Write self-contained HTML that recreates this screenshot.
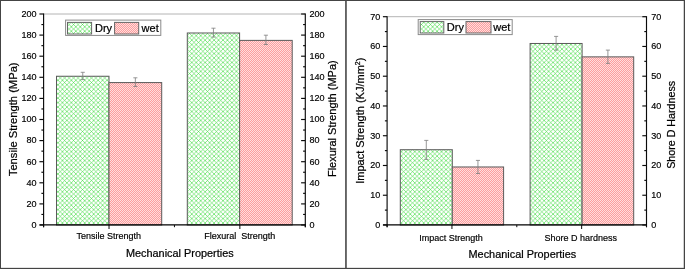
<!DOCTYPE html>
<html><head><meta charset="utf-8"><title>Mechanical Properties</title>
<style>
html,body{margin:0;padding:0;background:#fff;}
body{width:685px;height:269px;overflow:hidden;font-family:"Liberation Sans", sans-serif;}
svg{display:block;font-family:"Liberation Sans", sans-serif;}
</style></head><body>
<svg width="685" height="269" viewBox="0 0 685 269">
<defs>
<pattern id="gh" width="4.46" height="4.46" patternUnits="userSpaceOnUse">
<path d="M-1 -1 L5.46 5.46 M-1 3.46 L1 5.46 M3.46 -1 L5.46 1" stroke="#34d834" stroke-opacity="0.72" stroke-width="0.8" fill="none"/>
<path d="M-1 5.46 L5.46 -1 M-1 1 L1 -1 M3.46 5.46 L5.46 3.46" stroke="#34d834" stroke-opacity="0.72" stroke-width="0.8" fill="none"/>
</pattern>
<pattern id="rh" width="2" height="2" patternUnits="userSpaceOnUse">
<rect x="0" y="0" width="2" height="2" fill="#fc9e9e"/>
<rect x="0" y="0" width="1" height="1" fill="#ffdede"/>
<rect x="1" y="1" width="1" height="1" fill="#ffdede"/>
</pattern>
<filter id="soft" x="0" y="0" width="685" height="269" filterUnits="userSpaceOnUse" color-interpolation-filters="sRGB"><feGaussianBlur stdDeviation="0.3"/></filter>
</defs>
<rect x="0" y="0" width="685" height="269" fill="#fff"/>
<g filter="url(#soft)">

<line x1="43.6" y1="14" x2="305.3" y2="14" stroke="#b4b4b4" stroke-width="1"/>
<rect x="56.5" y="76.25" width="52.50" height="148.75" fill="#ffffff"/>
<rect x="56.5" y="76.25" width="52.50" height="148.75" fill="url(#gh)" stroke="#5a5a5a" stroke-width="1"/>
<rect x="109" y="82.58" width="52.70" height="142.42" fill="#ffe9e9"/>
<rect x="109" y="82.58" width="52.70" height="142.42" fill="url(#rh)" stroke="#5a5a5a" stroke-width="1"/>
<rect x="187.3" y="32.99" width="52.30" height="192.01" fill="#ffffff"/>
<rect x="187.3" y="32.99" width="52.30" height="192.01" fill="url(#gh)" stroke="#5a5a5a" stroke-width="1"/>
<rect x="239.6" y="40.38" width="52.60" height="184.62" fill="#ffe9e9"/>
<rect x="239.6" y="40.38" width="52.60" height="184.62" fill="url(#rh)" stroke="#5a5a5a" stroke-width="1"/>
<path d="M82.75 72.3 V79.6 M80.70 72.3 H84.80 M80.70 79.6 H84.80" stroke="#7e7e7e" stroke-width="0.8" fill="none"/>
<path d="M135.35 77.8 V86.5 M133.30 77.8 H137.40 M133.30 86.5 H137.40" stroke="#7e7e7e" stroke-width="0.8" fill="none"/>
<path d="M213.45 28.2 V37.1 M211.40 28.2 H215.50 M211.40 37.1 H215.50" stroke="#7e7e7e" stroke-width="0.8" fill="none"/>
<path d="M265.90 35.2 V44.5 M263.85 35.2 H267.95 M263.85 44.5 H267.95" stroke="#7e7e7e" stroke-width="0.8" fill="none"/>
<line x1="43.6" y1="13.5" x2="43.6" y2="227.2" stroke="#0a0a0a" stroke-width="1.15"/>
<line x1="305.3" y1="13.5" x2="305.3" y2="227.2" stroke="#0a0a0a" stroke-width="1.15"/>
<line x1="39.6" y1="224.95" x2="305.8" y2="224.95" stroke="#000" stroke-width="1.3"/>
<line x1="39.4" y1="225.00" x2="43.6" y2="225.00" stroke="#0a0a0a" stroke-width="1.15"/>
<line x1="301.1" y1="225.00" x2="305.3" y2="225.00" stroke="#0a0a0a" stroke-width="1.15"/>
<text transform="translate(36.5,227.80) scale(0.925,1)" font-size="9.8" text-anchor="end" fill="#000" stroke="#000" stroke-width="0.18">0</text>
<text transform="translate(309.4,227.80) scale(0.925,1)" font-size="9.8" text-anchor="start" fill="#000" stroke="#000" stroke-width="0.18">0</text>
<line x1="41.4" y1="214.45" x2="43.6" y2="214.45" stroke="#0a0a0a" stroke-width="1.15"/>
<line x1="303.1" y1="214.45" x2="305.3" y2="214.45" stroke="#0a0a0a" stroke-width="1.15"/>
<line x1="39.4" y1="203.90" x2="43.6" y2="203.90" stroke="#0a0a0a" stroke-width="1.15"/>
<line x1="301.1" y1="203.90" x2="305.3" y2="203.90" stroke="#0a0a0a" stroke-width="1.15"/>
<text transform="translate(36.5,206.70) scale(0.925,1)" font-size="9.8" text-anchor="end" fill="#000" stroke="#000" stroke-width="0.18">20</text>
<text transform="translate(309.4,206.70) scale(0.925,1)" font-size="9.8" text-anchor="start" fill="#000" stroke="#000" stroke-width="0.18">20</text>
<line x1="41.4" y1="193.35" x2="43.6" y2="193.35" stroke="#0a0a0a" stroke-width="1.15"/>
<line x1="303.1" y1="193.35" x2="305.3" y2="193.35" stroke="#0a0a0a" stroke-width="1.15"/>
<line x1="39.4" y1="182.80" x2="43.6" y2="182.80" stroke="#0a0a0a" stroke-width="1.15"/>
<line x1="301.1" y1="182.80" x2="305.3" y2="182.80" stroke="#0a0a0a" stroke-width="1.15"/>
<text transform="translate(36.5,185.60) scale(0.925,1)" font-size="9.8" text-anchor="end" fill="#000" stroke="#000" stroke-width="0.18">40</text>
<text transform="translate(309.4,185.60) scale(0.925,1)" font-size="9.8" text-anchor="start" fill="#000" stroke="#000" stroke-width="0.18">40</text>
<line x1="41.4" y1="172.25" x2="43.6" y2="172.25" stroke="#0a0a0a" stroke-width="1.15"/>
<line x1="303.1" y1="172.25" x2="305.3" y2="172.25" stroke="#0a0a0a" stroke-width="1.15"/>
<line x1="39.4" y1="161.70" x2="43.6" y2="161.70" stroke="#0a0a0a" stroke-width="1.15"/>
<line x1="301.1" y1="161.70" x2="305.3" y2="161.70" stroke="#0a0a0a" stroke-width="1.15"/>
<text transform="translate(36.5,164.50) scale(0.925,1)" font-size="9.8" text-anchor="end" fill="#000" stroke="#000" stroke-width="0.18">60</text>
<text transform="translate(309.4,164.50) scale(0.925,1)" font-size="9.8" text-anchor="start" fill="#000" stroke="#000" stroke-width="0.18">60</text>
<line x1="41.4" y1="151.15" x2="43.6" y2="151.15" stroke="#0a0a0a" stroke-width="1.15"/>
<line x1="303.1" y1="151.15" x2="305.3" y2="151.15" stroke="#0a0a0a" stroke-width="1.15"/>
<line x1="39.4" y1="140.60" x2="43.6" y2="140.60" stroke="#0a0a0a" stroke-width="1.15"/>
<line x1="301.1" y1="140.60" x2="305.3" y2="140.60" stroke="#0a0a0a" stroke-width="1.15"/>
<text transform="translate(36.5,143.40) scale(0.925,1)" font-size="9.8" text-anchor="end" fill="#000" stroke="#000" stroke-width="0.18">80</text>
<text transform="translate(309.4,143.40) scale(0.925,1)" font-size="9.8" text-anchor="start" fill="#000" stroke="#000" stroke-width="0.18">80</text>
<line x1="41.4" y1="130.05" x2="43.6" y2="130.05" stroke="#0a0a0a" stroke-width="1.15"/>
<line x1="303.1" y1="130.05" x2="305.3" y2="130.05" stroke="#0a0a0a" stroke-width="1.15"/>
<line x1="39.4" y1="119.50" x2="43.6" y2="119.50" stroke="#0a0a0a" stroke-width="1.15"/>
<line x1="301.1" y1="119.50" x2="305.3" y2="119.50" stroke="#0a0a0a" stroke-width="1.15"/>
<text transform="translate(36.5,122.30) scale(0.925,1)" font-size="9.8" text-anchor="end" fill="#000" stroke="#000" stroke-width="0.18">100</text>
<text transform="translate(309.4,122.30) scale(0.925,1)" font-size="9.8" text-anchor="start" fill="#000" stroke="#000" stroke-width="0.18">100</text>
<line x1="41.4" y1="108.95" x2="43.6" y2="108.95" stroke="#0a0a0a" stroke-width="1.15"/>
<line x1="303.1" y1="108.95" x2="305.3" y2="108.95" stroke="#0a0a0a" stroke-width="1.15"/>
<line x1="39.4" y1="98.40" x2="43.6" y2="98.40" stroke="#0a0a0a" stroke-width="1.15"/>
<line x1="301.1" y1="98.40" x2="305.3" y2="98.40" stroke="#0a0a0a" stroke-width="1.15"/>
<text transform="translate(36.5,101.20) scale(0.925,1)" font-size="9.8" text-anchor="end" fill="#000" stroke="#000" stroke-width="0.18">120</text>
<text transform="translate(309.4,101.20) scale(0.925,1)" font-size="9.8" text-anchor="start" fill="#000" stroke="#000" stroke-width="0.18">120</text>
<line x1="41.4" y1="87.85" x2="43.6" y2="87.85" stroke="#0a0a0a" stroke-width="1.15"/>
<line x1="303.1" y1="87.85" x2="305.3" y2="87.85" stroke="#0a0a0a" stroke-width="1.15"/>
<line x1="39.4" y1="77.30" x2="43.6" y2="77.30" stroke="#0a0a0a" stroke-width="1.15"/>
<line x1="301.1" y1="77.30" x2="305.3" y2="77.30" stroke="#0a0a0a" stroke-width="1.15"/>
<text transform="translate(36.5,80.10) scale(0.925,1)" font-size="9.8" text-anchor="end" fill="#000" stroke="#000" stroke-width="0.18">140</text>
<text transform="translate(309.4,80.10) scale(0.925,1)" font-size="9.8" text-anchor="start" fill="#000" stroke="#000" stroke-width="0.18">140</text>
<line x1="41.4" y1="66.75" x2="43.6" y2="66.75" stroke="#0a0a0a" stroke-width="1.15"/>
<line x1="303.1" y1="66.75" x2="305.3" y2="66.75" stroke="#0a0a0a" stroke-width="1.15"/>
<line x1="39.4" y1="56.20" x2="43.6" y2="56.20" stroke="#0a0a0a" stroke-width="1.15"/>
<line x1="301.1" y1="56.20" x2="305.3" y2="56.20" stroke="#0a0a0a" stroke-width="1.15"/>
<text transform="translate(36.5,59.00) scale(0.925,1)" font-size="9.8" text-anchor="end" fill="#000" stroke="#000" stroke-width="0.18">160</text>
<text transform="translate(309.4,59.00) scale(0.925,1)" font-size="9.8" text-anchor="start" fill="#000" stroke="#000" stroke-width="0.18">160</text>
<line x1="41.4" y1="45.65" x2="43.6" y2="45.65" stroke="#0a0a0a" stroke-width="1.15"/>
<line x1="303.1" y1="45.65" x2="305.3" y2="45.65" stroke="#0a0a0a" stroke-width="1.15"/>
<line x1="39.4" y1="35.10" x2="43.6" y2="35.10" stroke="#0a0a0a" stroke-width="1.15"/>
<line x1="301.1" y1="35.10" x2="305.3" y2="35.10" stroke="#0a0a0a" stroke-width="1.15"/>
<text transform="translate(36.5,37.90) scale(0.925,1)" font-size="9.8" text-anchor="end" fill="#000" stroke="#000" stroke-width="0.18">180</text>
<text transform="translate(309.4,37.90) scale(0.925,1)" font-size="9.8" text-anchor="start" fill="#000" stroke="#000" stroke-width="0.18">180</text>
<line x1="41.4" y1="24.55" x2="43.6" y2="24.55" stroke="#0a0a0a" stroke-width="1.15"/>
<line x1="303.1" y1="24.55" x2="305.3" y2="24.55" stroke="#0a0a0a" stroke-width="1.15"/>
<line x1="39.4" y1="14.00" x2="43.6" y2="14.00" stroke="#0a0a0a" stroke-width="1.15"/>
<line x1="301.1" y1="14.00" x2="305.3" y2="14.00" stroke="#0a0a0a" stroke-width="1.15"/>
<text transform="translate(36.5,16.80) scale(0.925,1)" font-size="9.8" text-anchor="end" fill="#000" stroke="#000" stroke-width="0.18">200</text>
<text transform="translate(309.4,16.80) scale(0.925,1)" font-size="9.8" text-anchor="start" fill="#000" stroke="#000" stroke-width="0.18">200</text>
<line x1="43.60" y1="225" x2="43.60" y2="227.2" stroke="#0a0a0a" stroke-width="1"/>
<line x1="109.03" y1="225" x2="109.03" y2="229" stroke="#0a0a0a" stroke-width="1"/>
<line x1="174.45" y1="225" x2="174.45" y2="227.2" stroke="#0a0a0a" stroke-width="1"/>
<line x1="239.87" y1="225" x2="239.87" y2="229" stroke="#0a0a0a" stroke-width="1"/>
<line x1="305.30" y1="225" x2="305.30" y2="227.2" stroke="#0a0a0a" stroke-width="1"/>
<text x="108.8" y="239.1" font-size="9" text-anchor="middle" fill="#000" stroke="#000" stroke-width="0.18" xml:space="preserve">Tensile Strength</text>
<text x="239.8" y="239.1" font-size="9" text-anchor="middle" fill="#000" stroke="#000" stroke-width="0.18" xml:space="preserve">Flexural  Strength</text>
<text x="179.8" y="257.2" font-size="10.9" text-anchor="middle" fill="#000" stroke="#000" stroke-width="0.22">Mechanical Properties</text>
<text transform="translate(16.6,119.3) rotate(-90)" font-size="11.2" text-anchor="middle" fill="#000" stroke="#000" stroke-width="0.22">Tensile Strength (MPa)</text>
<text transform="translate(336.2,118.7) rotate(-90)" font-size="11" text-anchor="middle" fill="#000" stroke="#000" stroke-width="0.22">Flexural Strength (MPa)</text>
<rect x="65.6" y="20.1" width="95.20000000000002" height="15.299999999999997" fill="#fff" stroke="#8a8a8a" stroke-width="1"/>
<rect x="67.5" y="22.4" width="24.099999999999994" height="11.600000000000001" fill="#ffffff"/>
<rect x="67.5" y="22.4" width="24.099999999999994" height="11.600000000000001" fill="url(#gh)" stroke="#666" stroke-width="1"/>
<rect x="114.6" y="22.4" width="24.099999999999994" height="11.600000000000001" fill="#ffe9e9"/>
<rect x="114.6" y="22.4" width="24.099999999999994" height="11.600000000000001" fill="url(#rh)" stroke="#666" stroke-width="1"/>
<text x="95" y="31.8" font-size="11" fill="#000" stroke="#000" stroke-width="0.22">Dry</text>
<text x="141.6" y="31.8" font-size="11" fill="#000" stroke="#000" stroke-width="0.22">wet</text>
<line x1="387.1" y1="16.7" x2="646.5" y2="16.7" stroke="#b4b4b4" stroke-width="1"/>
<rect x="400.3" y="149.71" width="52.00" height="75.29" fill="#ffffff"/>
<rect x="400.3" y="149.71" width="52.00" height="75.29" fill="url(#gh)" stroke="#5a5a5a" stroke-width="1"/>
<rect x="452.3" y="166.97" width="51.30" height="58.03" fill="#ffe9e9"/>
<rect x="452.3" y="166.97" width="51.30" height="58.03" fill="url(#rh)" stroke="#5a5a5a" stroke-width="1"/>
<rect x="530.1" y="43.48" width="52.00" height="181.52" fill="#ffffff"/>
<rect x="530.1" y="43.48" width="52.00" height="181.52" fill="url(#gh)" stroke="#5a5a5a" stroke-width="1"/>
<rect x="582.1" y="56.87" width="51.60" height="168.13" fill="#ffe9e9"/>
<rect x="582.1" y="56.87" width="51.60" height="168.13" fill="url(#rh)" stroke="#5a5a5a" stroke-width="1"/>
<path d="M426.30 140.4 V159.4 M424.25 140.4 H428.35 M424.25 159.4 H428.35" stroke="#7e7e7e" stroke-width="0.8" fill="none"/>
<path d="M477.95 160.4 V173.5 M475.90 160.4 H480.00 M475.90 173.5 H480.00" stroke="#7e7e7e" stroke-width="0.8" fill="none"/>
<path d="M556.10 36.4 V50.1 M554.05 36.4 H558.15 M554.05 50.1 H558.15" stroke="#7e7e7e" stroke-width="0.8" fill="none"/>
<path d="M607.90 50.1 V63.4 M605.85 50.1 H609.95 M605.85 63.4 H609.95" stroke="#7e7e7e" stroke-width="0.8" fill="none"/>
<line x1="387.1" y1="16.2" x2="387.1" y2="227.2" stroke="#0a0a0a" stroke-width="1.15"/>
<line x1="646.5" y1="16.2" x2="646.5" y2="227.2" stroke="#0a0a0a" stroke-width="1.15"/>
<line x1="383.1" y1="224.95" x2="647.0" y2="224.95" stroke="#000" stroke-width="1.3"/>
<line x1="382.90000000000003" y1="225.00" x2="387.1" y2="225.00" stroke="#0a0a0a" stroke-width="1.15"/>
<line x1="642.3" y1="225.00" x2="646.5" y2="225.00" stroke="#0a0a0a" stroke-width="1.15"/>
<text transform="translate(380.4,227.80) scale(0.925,1)" font-size="9.8" text-anchor="end" fill="#000" stroke="#000" stroke-width="0.18">0</text>
<text transform="translate(651.2,227.80) scale(0.925,1)" font-size="9.8" text-anchor="start" fill="#000" stroke="#000" stroke-width="0.18">0</text>
<line x1="384.90000000000003" y1="210.12" x2="387.1" y2="210.12" stroke="#0a0a0a" stroke-width="1.15"/>
<line x1="644.3" y1="210.12" x2="646.5" y2="210.12" stroke="#0a0a0a" stroke-width="1.15"/>
<line x1="382.90000000000003" y1="195.24" x2="387.1" y2="195.24" stroke="#0a0a0a" stroke-width="1.15"/>
<line x1="642.3" y1="195.24" x2="646.5" y2="195.24" stroke="#0a0a0a" stroke-width="1.15"/>
<text transform="translate(380.4,198.04) scale(0.925,1)" font-size="9.8" text-anchor="end" fill="#000" stroke="#000" stroke-width="0.18">10</text>
<text transform="translate(651.2,198.04) scale(0.925,1)" font-size="9.8" text-anchor="start" fill="#000" stroke="#000" stroke-width="0.18">10</text>
<line x1="384.90000000000003" y1="180.36" x2="387.1" y2="180.36" stroke="#0a0a0a" stroke-width="1.15"/>
<line x1="644.3" y1="180.36" x2="646.5" y2="180.36" stroke="#0a0a0a" stroke-width="1.15"/>
<line x1="382.90000000000003" y1="165.49" x2="387.1" y2="165.49" stroke="#0a0a0a" stroke-width="1.15"/>
<line x1="642.3" y1="165.49" x2="646.5" y2="165.49" stroke="#0a0a0a" stroke-width="1.15"/>
<text transform="translate(380.4,168.29) scale(0.925,1)" font-size="9.8" text-anchor="end" fill="#000" stroke="#000" stroke-width="0.18">20</text>
<text transform="translate(651.2,168.29) scale(0.925,1)" font-size="9.8" text-anchor="start" fill="#000" stroke="#000" stroke-width="0.18">20</text>
<line x1="384.90000000000003" y1="150.61" x2="387.1" y2="150.61" stroke="#0a0a0a" stroke-width="1.15"/>
<line x1="644.3" y1="150.61" x2="646.5" y2="150.61" stroke="#0a0a0a" stroke-width="1.15"/>
<line x1="382.90000000000003" y1="135.73" x2="387.1" y2="135.73" stroke="#0a0a0a" stroke-width="1.15"/>
<line x1="642.3" y1="135.73" x2="646.5" y2="135.73" stroke="#0a0a0a" stroke-width="1.15"/>
<text transform="translate(380.4,138.53) scale(0.925,1)" font-size="9.8" text-anchor="end" fill="#000" stroke="#000" stroke-width="0.18">30</text>
<text transform="translate(651.2,138.53) scale(0.925,1)" font-size="9.8" text-anchor="start" fill="#000" stroke="#000" stroke-width="0.18">30</text>
<line x1="384.90000000000003" y1="120.85" x2="387.1" y2="120.85" stroke="#0a0a0a" stroke-width="1.15"/>
<line x1="644.3" y1="120.85" x2="646.5" y2="120.85" stroke="#0a0a0a" stroke-width="1.15"/>
<line x1="382.90000000000003" y1="105.97" x2="387.1" y2="105.97" stroke="#0a0a0a" stroke-width="1.15"/>
<line x1="642.3" y1="105.97" x2="646.5" y2="105.97" stroke="#0a0a0a" stroke-width="1.15"/>
<text transform="translate(380.4,108.77) scale(0.925,1)" font-size="9.8" text-anchor="end" fill="#000" stroke="#000" stroke-width="0.18">40</text>
<text transform="translate(651.2,108.77) scale(0.925,1)" font-size="9.8" text-anchor="start" fill="#000" stroke="#000" stroke-width="0.18">40</text>
<line x1="384.90000000000003" y1="91.09" x2="387.1" y2="91.09" stroke="#0a0a0a" stroke-width="1.15"/>
<line x1="644.3" y1="91.09" x2="646.5" y2="91.09" stroke="#0a0a0a" stroke-width="1.15"/>
<line x1="382.90000000000003" y1="76.21" x2="387.1" y2="76.21" stroke="#0a0a0a" stroke-width="1.15"/>
<line x1="642.3" y1="76.21" x2="646.5" y2="76.21" stroke="#0a0a0a" stroke-width="1.15"/>
<text transform="translate(380.4,79.01) scale(0.925,1)" font-size="9.8" text-anchor="end" fill="#000" stroke="#000" stroke-width="0.18">50</text>
<text transform="translate(651.2,79.01) scale(0.925,1)" font-size="9.8" text-anchor="start" fill="#000" stroke="#000" stroke-width="0.18">50</text>
<line x1="384.90000000000003" y1="61.34" x2="387.1" y2="61.34" stroke="#0a0a0a" stroke-width="1.15"/>
<line x1="644.3" y1="61.34" x2="646.5" y2="61.34" stroke="#0a0a0a" stroke-width="1.15"/>
<line x1="382.90000000000003" y1="46.46" x2="387.1" y2="46.46" stroke="#0a0a0a" stroke-width="1.15"/>
<line x1="642.3" y1="46.46" x2="646.5" y2="46.46" stroke="#0a0a0a" stroke-width="1.15"/>
<text transform="translate(380.4,49.26) scale(0.925,1)" font-size="9.8" text-anchor="end" fill="#000" stroke="#000" stroke-width="0.18">60</text>
<text transform="translate(651.2,49.26) scale(0.925,1)" font-size="9.8" text-anchor="start" fill="#000" stroke="#000" stroke-width="0.18">60</text>
<line x1="384.90000000000003" y1="31.58" x2="387.1" y2="31.58" stroke="#0a0a0a" stroke-width="1.15"/>
<line x1="644.3" y1="31.58" x2="646.5" y2="31.58" stroke="#0a0a0a" stroke-width="1.15"/>
<line x1="382.90000000000003" y1="16.70" x2="387.1" y2="16.70" stroke="#0a0a0a" stroke-width="1.15"/>
<line x1="642.3" y1="16.70" x2="646.5" y2="16.70" stroke="#0a0a0a" stroke-width="1.15"/>
<text transform="translate(380.4,19.50) scale(0.925,1)" font-size="9.8" text-anchor="end" fill="#000" stroke="#000" stroke-width="0.18">70</text>
<text transform="translate(651.2,19.50) scale(0.925,1)" font-size="9.8" text-anchor="start" fill="#000" stroke="#000" stroke-width="0.18">70</text>
<line x1="387.10" y1="225" x2="387.10" y2="227.2" stroke="#0a0a0a" stroke-width="1"/>
<line x1="451.95" y1="225" x2="451.95" y2="229" stroke="#0a0a0a" stroke-width="1"/>
<line x1="516.80" y1="225" x2="516.80" y2="227.2" stroke="#0a0a0a" stroke-width="1"/>
<line x1="581.65" y1="225" x2="581.65" y2="229" stroke="#0a0a0a" stroke-width="1"/>
<line x1="646.50" y1="225" x2="646.50" y2="227.2" stroke="#0a0a0a" stroke-width="1"/>
<text x="451.0" y="240.6" font-size="9" text-anchor="middle" fill="#000" stroke="#000" stroke-width="0.18" xml:space="preserve">Impact Strength</text>
<text x="580.8" y="240.6" font-size="9" text-anchor="middle" fill="#000" stroke="#000" stroke-width="0.18" xml:space="preserve">Shore D hardness</text>
<text x="522.4" y="258.3" font-size="10.9" text-anchor="middle" fill="#000" stroke="#000" stroke-width="0.22">Mechanical Properties</text>
<text transform="translate(363.6,120.7) rotate(-90)" font-size="11" text-anchor="middle" fill="#000" stroke="#000" stroke-width="0.22">Impact Strength (KJ/mm<tspan font-size="7" dy="-4">2</tspan><tspan dy="4">)</tspan></text>
<text transform="translate(674.9,124.9) rotate(-90)" font-size="10.7" text-anchor="middle" fill="#000" stroke="#000" stroke-width="0.22">Shore D Hardness</text>
<rect x="418.2" y="19.6" width="94.00000000000006" height="15.0" fill="#fff" stroke="#8a8a8a" stroke-width="1"/>
<rect x="420.2" y="21.6" width="23.600000000000023" height="11.399999999999999" fill="#ffffff"/>
<rect x="420.2" y="21.6" width="23.600000000000023" height="11.399999999999999" fill="url(#gh)" stroke="#666" stroke-width="1"/>
<rect x="466" y="21.6" width="25" height="11.399999999999999" fill="#ffe9e9"/>
<rect x="466" y="21.6" width="25" height="11.399999999999999" fill="url(#rh)" stroke="#666" stroke-width="1"/>
<text x="446.8" y="31.2" font-size="11" fill="#000" stroke="#000" stroke-width="0.22">Dry</text>
<text x="493.3" y="31.2" font-size="11" fill="#000" stroke="#000" stroke-width="0.22">wet</text>
<rect x="0" y="0" width="685" height="1" fill="#444"/>
<rect x="0" y="0" width="1" height="269" fill="#444"/>
<rect x="0" y="267.85" width="685" height="1.15" fill="#444"/>
<rect x="683.75" y="0" width="1.25" height="269" fill="#444"/>
<rect x="345.15" y="0" width="1.6" height="269" fill="#484848"/>
</g></svg></body></html>
